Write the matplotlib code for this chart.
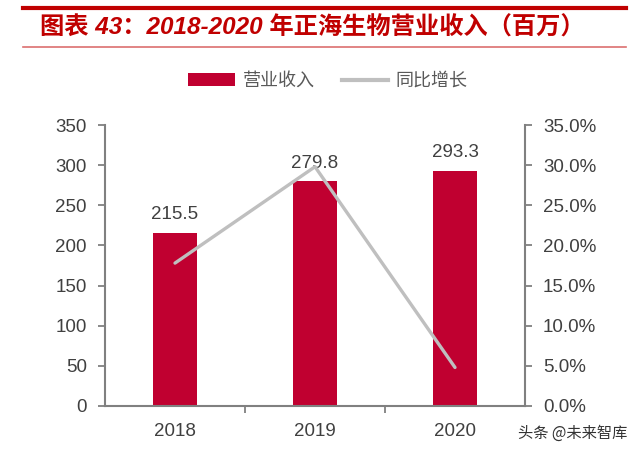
import matplotlib
matplotlib.use('Agg')
import matplotlib.pyplot as plt
from matplotlib.lines import Line2D
from matplotlib.patches import Patch
from matplotlib.ticker import FuncFormatter

# Data
years = ['2018', '2019', '2020']
revenue = [215.5, 279.8, 293.3]          # 营业收入 (百万)
growth = [17.8, 29.8, 4.8]               # 同比增长 (%)

# Palette
C_BAR = '#C00030'
C_LINE = '#BFBFBF'
C_TEXT = '#404040'
C_AXIS = '#808080'
C_TITLE = '#C00000'

CJK = ['Noto Sans CJK SC', 'DejaVu Sans']
LAT = ['Liberation Sans', 'Noto Sans CJK SC']

fig = plt.figure(figsize=(6.4, 4.55), dpi=100)
fig.patch.set_facecolor('white')

# ── Title block ──
fig.add_artist(Line2D([23 / 640, 626 / 640], [1 - 7.5 / 455] * 2,
                      color=C_TITLE, lw=3, transform=fig.transFigure))
fig.add_artist(Line2D([23 / 640, 626 / 640], [1 - 47 / 455] * 2,
                      color='#DC7070', lw=1.2, transform=fig.transFigure))
fig.text(40 / 640, 1 - 28 / 455, '图表 43：2018-2020 年正海生物营业收入（百万）',
         ha='left', va='center', fontsize=17.5, fontweight='bold',
         style='italic', color=C_TITLE, family=LAT)

# ── Axes ──
ax = fig.add_axes([105 / 640, 1 - 406 / 455, 420 / 640, 281 / 455])
x = list(range(len(years)))
ax.bar(x, revenue, width=0.315, color=C_BAR, zorder=2)
ax.set_xlim(-0.5, 2.5)
ax.set_ylim(0, 350)
ax.set_yticks(range(0, 351, 50))

for xi, v in zip(x, revenue):
    ax.annotate(f'{v:.1f}', (xi, v), xytext=(0, 7), textcoords='offset points',
                ha='center', va='bottom', fontsize=13.5, color=C_TEXT,
                family=LAT, zorder=5)

ax.set_xticks([0.5, 1.5])
ax.set_xticklabels([])
ax.set_xticks(x, minor=True)
ax.set_xticklabels(years, minor=True, fontsize=13.5, color=C_TEXT, family=LAT)
ax.tick_params(axis='x', which='major', length=5, color=C_AXIS, width=1.3)
ax.tick_params(axis='x', which='minor', length=0, pad=12)
ax.tick_params(axis='y', length=5, color=C_AXIS, width=1.3, pad=8,
               labelsize=13.5, labelcolor=C_TEXT)
for lab in ax.get_yticklabels():
    lab.set_family(LAT)

for s in ['top', 'right']:
    ax.spines[s].set_visible(False)
for s in ['left', 'bottom']:
    ax.spines[s].set_color(C_AXIS)
    ax.spines[s].set_linewidth(1.5)

ax2 = ax.twinx()
ax2.plot(x, growth, color=C_LINE, lw=2.4, solid_capstyle='round', zorder=4)
ax2.set_ylim(0, 35)
ax2.set_yticks(range(0, 36, 5))
ax2.yaxis.set_major_formatter(FuncFormatter(lambda v, p: f'{v:.1f}%'))
ax2.tick_params(axis='y', length=5, color=C_AXIS, width=1.3, pad=8,
                labelsize=13.5, labelcolor=C_TEXT)
for lab in ax2.get_yticklabels():
    lab.set_family(LAT)
for s in ['top', 'left', 'bottom']:
    ax2.spines[s].set_visible(False)
ax2.spines['right'].set_color(C_AXIS)
ax2.spines['right'].set_linewidth(1.5)

# ── Legend ──
handles = [Patch(facecolor=C_BAR, edgecolor='none'),
           Line2D([], [], color=C_LINE, lw=3)]
fig.legend(handles, ['营业收入', '同比增长'], loc='center',
           bbox_to_anchor=(328 / 640, 1 - 81 / 455), ncol=2, frameon=False,
           prop={'family': CJK, 'size': 13}, labelcolor='#595959',
           handlelength=2.6, handletextpad=0.4, columnspacing=1.5)

# Watermark
fig.text(627 / 640, 1 - 433 / 455, '头条 @未来智库', ha='right', va='center',
         fontsize=11, color='#333333', family=CJK)

plt.savefig('out.png', dpi=100, facecolor='white')
plt.close()
